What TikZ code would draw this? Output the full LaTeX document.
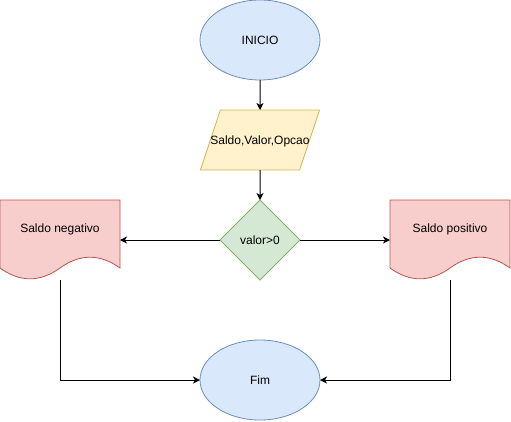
\documentclass[tikz,border=0pt]{standalone}
\usepackage{fontspec}
\setmainfont{Liberation Sans}
\usetikzlibrary{arrows.meta,backgrounds,positioning,shapes.geometric}

\definecolor{azulfundo}{HTML}{DAE8FC}
\definecolor{azulborda}{HTML}{6C8EBF}
\definecolor{amarelofundo}{HTML}{FFF2CC}
\definecolor{amareloborda}{HTML}{D6B656}
\definecolor{verdefundo}{HTML}{D5E8D4}
\definecolor{verdeborda}{HTML}{82B366}
\definecolor{vermelhofundo}{HTML}{F8CECC}
\definecolor{vermelhoborda}{HTML}{B85450}

\begin{document}
\begin{tikzpicture}[
    font=\fontsize{12}{14}\selectfont,
    node distance=30pt,
    every node/.style={outer sep=0pt},
    terminal/.style={
        ellipse,
        draw=azulborda,
        fill=azulfundo,
        line width=0.8pt,
        minimum width=120pt,
        minimum height=80pt
    },
    entrada/.style={
        trapezium,
        trapezium left angle=71.57,
        trapezium right angle=108.43,
        draw=amareloborda,
        fill=amarelofundo,
        line width=0.8pt,
        inner xsep=-10pt,
        inner ysep=0pt,
        text height=34pt,
        text depth=26pt
    },
    decisao/.style={
        diamond,
        aspect=1,
        draw=verdeborda,
        fill=verdefundo,
        line width=0.8pt,
        minimum width=80pt,
        minimum height=80pt,
        inner sep=0pt
    },
    documento/.style={
        rectangle,
        minimum width=120pt,
        inner ysep=0pt,
        text height=32pt,
        text depth=48pt
    },
    docforma/.style={
        draw=vermelhoborda,
        fill=vermelhofundo,
        line width=0.8pt
    },
    seta/.style={
        -{Stealth[length=7pt,width=7pt,inset=2pt]},
        line width=1pt
    }
]

\useasboundingbox (0,0) rectangle (511pt,421pt);

% Inicio
\node[terminal] (inicio) at (260pt,381pt) {INICIO};

% Entrada de dados
\node[entrada, below=of inicio] (dados) {Saldo,Valor,Opcao};

% Decisao
\node[decisao, below=of dados] (teste) {valor>0};

% Documentos
\node[documento, left=100pt of teste] (neg) {Saldo negativo};
\node[documento, right=90pt of teste] (pos) {Saldo positivo};

% Fim
\node[terminal, below=60pt of teste] (fim) {Fim};

% Formas dos documentos
\begin{scope}[on background layer]
\draw[docforma] (neg.north west) -- (neg.north east) -- ([yshift=12pt]neg.south east)
    .. controls +(-20pt,14.4pt) and +(20pt,14.4pt) .. ([yshift=12pt]neg.south)
    .. controls +(-20pt,-14.4pt) and +(20pt,-14.4pt) .. ([yshift=12pt]neg.south west) -- cycle;
\draw[docforma] (pos.north west) -- (pos.north east) -- ([yshift=12pt]pos.south east)
    .. controls +(-20pt,14.4pt) and +(20pt,14.4pt) .. ([yshift=12pt]pos.south)
    .. controls +(-20pt,-14.4pt) and +(20pt,-14.4pt) .. ([yshift=12pt]pos.south west) -- cycle;
\end{scope}

% Fluxo principal
\draw[seta] (inicio) -- (dados);
\draw[seta] (dados) -- (teste);

% Ramos da decisao
\draw[seta] (teste) -- (neg);
\draw[seta] (teste) -- (pos);

% Documentos para o fim
\draw[seta] (neg.south) |- (fim);
\draw[seta] (pos.south) |- (fim);

\end{tikzpicture}
\end{document}
